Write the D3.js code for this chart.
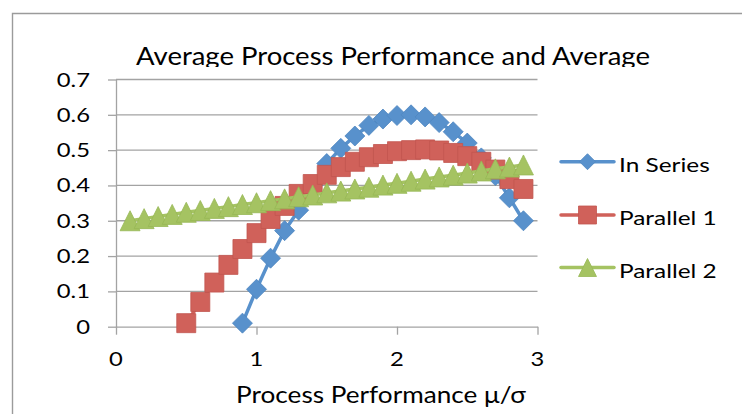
<!DOCTYPE html>
<html>
<head>
<meta charset="utf-8">
<script src="https://cdn.jsdelivr.net/npm/d3@7"></script>
<style>
  html, body { margin: 0; padding: 0; background: #fff; }
  svg { display: block; }
  text { font-family: Lato, "Open Sans", sans-serif; fill: #000; }
</style>
</head>
<body>
<svg id="chart" width="742" height="414"></svg>
<script>
// ---- data ----
const titleText = "Average Process Performance and Average";
const xAxisTitle = "Process Performance μ/σ";
const xTicks = [0, 1, 2, 3];
const yTicks = [0, 0.1, 0.2, 0.3, 0.4, 0.5, 0.6, 0.7];
const seriesNames = ["In Series", "Parallel 1", "Parallel 2"];

const inSeriesX = [0.9, 1.0, 1.1, 1.2, 1.3, 1.4, 1.5, 1.6, 1.7, 1.8, 1.9, 2.0,
                   2.1, 2.2, 2.3, 2.4, 2.5, 2.6, 2.7, 2.8, 2.9];
const inSeriesY = [0.01, 0.106, 0.194, 0.272, 0.33, 0.40, 0.462, 0.505, 0.54, 0.57, 0.588, 0.598,
                   0.60, 0.594, 0.578, 0.552, 0.52, 0.478, 0.428, 0.365, 0.30];

const parallel1X = [0.5, 0.6, 0.7, 0.8, 0.9, 1.0, 1.1, 1.2, 1.3, 1.4, 1.5, 1.6, 1.7,
                    1.8, 1.9, 2.0, 2.1, 2.2, 2.3, 2.4, 2.5, 2.6, 2.7, 2.8, 2.9];
const parallel1Y = [0.01, 0.07, 0.125, 0.175, 0.22, 0.265, 0.305, 0.342, 0.376, 0.404, 0.43, 0.452, 0.467,
                    0.48, 0.489, 0.497, 0.50, 0.502, 0.499, 0.492, 0.483, 0.467, 0.445, 0.418, 0.39];

const parallel2X = [0.1, 0.2, 0.3, 0.4, 0.5, 0.6, 0.7, 0.8, 0.9, 1.0, 1.1, 1.2, 1.3, 1.4, 1.5,
                    1.6, 1.7, 1.8, 1.9, 2.0, 2.1, 2.2, 2.3, 2.4, 2.5, 2.6, 2.7, 2.8, 2.9];
const parallel2Y = [0.30, 0.306, 0.312, 0.318, 0.324, 0.329, 0.335, 0.34, 0.346, 0.351, 0.357, 0.362, 0.368, 0.373, 0.379,
                    0.384, 0.39, 0.395, 0.401, 0.406, 0.412, 0.418, 0.424, 0.429, 0.435, 0.441, 0.447, 0.452, 0.458];

const seriesColors = ["#5891cc", "#d0615a", "#a5c362"];
const markerStroke = ["#4f86c0", "#c2564f", "#97b755"];
const markerShapes = ["diamond", "square", "triangle"];

// ---- layout ----
const svg = d3.select("#chart");
const W = 742, H = 414;
const plot = { left: 116, right: 537.5, top: 79.5, bottom: 326.7 };
const gridColor = "#a3a3a3";

const x = d3.scaleLinear().domain([0, 3]).range([plot.left, plot.right]);
const y = d3.scaleLinear().domain([0, 0.7]).range([plot.bottom, plot.top]);

svg.append("rect").attr("width", W).attr("height", H).attr("fill", "#fff");

// chart-area border
svg.append("path")
  .attr("d", `M12.5,${H + 2} V13.5 H${W + 2}`)
  .attr("fill", "none").attr("stroke", "#9b9b9b").attr("stroke-width", 1.4);

// text with a horizontal stretch factor sx
function label(g, px, py, str, size, anchor, sx) {
  return g.append("text")
    .attr("transform", `translate(${px},${py}) scale(${sx},1)`)
    .attr("text-anchor", anchor)
    .style("font-size", size + "px")
    .text(str);
}

// title, clipped at the bottom edge
svg.append("clipPath").attr("id", "titleClip")
  .append("rect").attr("x", 0).attr("y", 0).attr("width", W).attr("height", 67);
const titleG = svg.append("g").attr("clip-path", "url(#titleClip)");
label(titleG, 393, 65, titleText, 25, "middle", 1.1);

// horizontal gridlines
svg.append("g").selectAll("line").data(yTicks.slice(1)).join("line")
  .attr("x1", plot.left).attr("x2", plot.right)
  .attr("y1", d => y(d)).attr("y2", d => y(d))
  .attr("stroke", gridColor).attr("stroke-width", 1.3);

// axes (lines and ticks), labels drawn separately
const yAxis = d3.axisLeft(y).tickValues(yTicks).tickSize(8).tickSizeOuter(0).tickFormat("");
const xAxis = d3.axisBottom(x).tickValues(xTicks).tickSize(8).tickSizeOuter(0).tickFormat("");
const gy = svg.append("g").attr("transform", `translate(${plot.left},0)`).call(yAxis);
const gx = svg.append("g").attr("transform", `translate(0,${plot.bottom})`).call(xAxis);
[gy, gx].forEach(g => {
  g.selectAll("path, line").attr("stroke", gridColor).attr("stroke-width", 1.3);
});

const yFmt = d => d === 0 ? "0" : d3.format(".1f")(d);
const yLab = svg.append("g");
yTicks.forEach(t => label(yLab, 90, y(t) + 7, yFmt(t), 19.5, "end", 1.22));
const xLab = svg.append("g");
xTicks.forEach(t => label(xLab, x(t), 366, String(t), 19.5, "middle", 1.22));
label(svg, 381, 403, xAxisTitle, 24, "middle", 1.09);

// markers
function markerPath(shape, s) {
  const h = s / 2;
  if (shape === "diamond") return `M0,${-h}L${h},0L0,${h}L${-h},0Z`;
  if (shape === "square") return `M${-h},${-h}H${h}V${h}H${-h}Z`;
  return `M0,${-h}L${h},${h}L${-h},${h}Z`;
}

const series = [
  { xs: inSeriesX, ys: inSeriesY },
  { xs: parallel1X, ys: parallel1Y },
  { xs: parallel2X, ys: parallel2Y }
];
const markerSize = [20, 19, 20];

const line = d3.line().x(d => x(d[0])).y(d => y(d[1]));
series.forEach((s, i) => {
  const pts = s.xs.map((v, k) => [v, s.ys[k]]);
  const g = svg.append("g");
  g.append("path").datum(pts).attr("d", line)
    .attr("fill", "none").attr("stroke", seriesColors[i])
    .attr("stroke-width", 3.5).attr("stroke-linejoin", "round").attr("stroke-linecap", "round");
  g.selectAll("path.m").data(pts).join("path").attr("class", "m")
    .attr("transform", d => `translate(${x(d[0])},${y(d[1])})`)
    .attr("d", markerPath(markerShapes[i], markerSize[i]))
    .attr("fill", seriesColors[i])
    .attr("stroke", markerStroke[i]).attr("stroke-width", 0.8);
});

// legend
const legendY = [161.7, 215, 267.5];
const legend = svg.append("g");
const legendMarker = [16, 18, 18];
seriesNames.forEach((name, i) => {
  legend.append("line")
    .attr("x1", 561).attr("x2", 614).attr("y1", legendY[i]).attr("y2", legendY[i])
    .attr("stroke", seriesColors[i]).attr("stroke-width", 3.5).attr("stroke-linecap", "round");
  legend.append("path")
    .attr("transform", `translate(587.5,${legendY[i]})`)
    .attr("d", markerPath(markerShapes[i], legendMarker[i]))
    .attr("fill", seriesColors[i])
    .attr("stroke", markerStroke[i]).attr("stroke-width", 0.8);
  label(legend, 619, legendY[i] + 10, name, 20, "start", 1.22);
});
</script>
</body>
</html>
